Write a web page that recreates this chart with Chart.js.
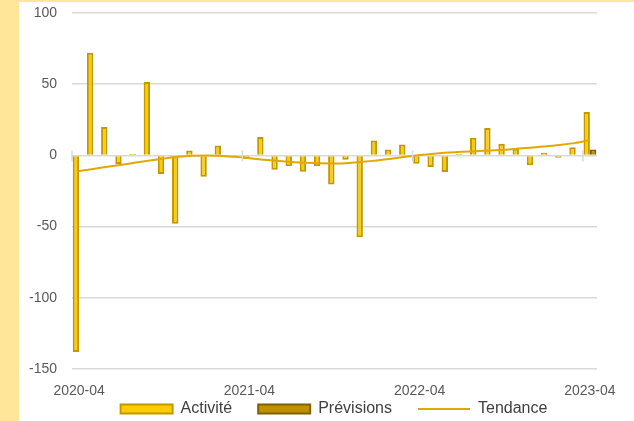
<!DOCTYPE html>
<html>
<head>
<meta charset="utf-8">
<script src="https://cdn.jsdelivr.net/npm/chart.js@4/dist/chart.umd.min.js"></script>
<style>
  html, body { margin: 0; padding: 0; background: #FFE699; }
  #wrap { position: absolute; left: 19px; top: 2px; width: 615px; height: 419px; background: #fff; }
</style>
</head>
<body>
<div id="wrap"><canvas id="chart" width="615" height="419"></canvas></div>
<script>
// ----- Data -----
const months = [
  "2020-04","2020-05","2020-06","2020-07","2020-08","2020-09","2020-10","2020-11","2020-12",
  "2021-01","2021-02","2021-03","2021-04","2021-05","2021-06","2021-07","2021-08","2021-09",
  "2021-10","2021-11","2021-12","2022-01","2022-02","2022-03","2022-04","2022-05","2022-06",
  "2022-07","2022-08","2022-09","2022-10","2022-11","2022-12","2023-01","2023-02","2023-03",
  "2023-04"
];
const activite = [
  -138, 72, 20, -6, 1, 51.5, -13, -48, 3.5,
  -15, 7, 0.5, -2.3, 13, -10, -7.7, -11.5, -7.7,
  -20.5, -3, -57.5, 10.5, 4.2, 7.7, -5.8, -8.2, -11.7,
  1.2, 12.4, 19.2, 8.2, 4.7, -7, 1.9, -1.6, 5.8,
  30.4
];
const previsions = [
  null, null, null, null, null, null, null, null, null,
  null, null, null, null, null, null, null, null, null,
  null, null, null, null, null, null, null, null, null,
  null, null, null, null, null, null, null, null, null,
  4.2
];
const tendance = [
  -11, -9.5, -8, -6.6, -5, -3.6, -2.2, -1, -0.3,
  0, -0.4, -1, -2, -3, -3.8, -4.6, -5.2, -5.6,
  -5.7, -5.3, -4.5, -3.5, -2.3, -1, 0.2, 1.2, 2,
  2.5, 3, 3.5, 4, 4.8, 5.6, 6.5, 7.5, 8.8,
  10.8
];

// small tick marks on the zero line, at the yearly category boundaries
const zeroTicks = {
  id: "zeroTicks",
  afterDatasetsDraw(chart) {
    const x = chart.scales.x, y = chart.scales.y;
    const y0 = y.getPixelForValue(0);
    const step = (x.right - x.left) / months.length;
    const ctx = chart.ctx;
    ctx.save();
    ctx.strokeStyle = "#D9D9D9";
    ctx.lineWidth = 1.5;
    for (let i = 0; i <= months.length; i += 12) {
      const px = x.left + step * i;
      ctx.beginPath();
      ctx.moveTo(px, y0 - 5);
      ctx.lineTo(px, y0 + 6);
      ctx.stroke();
    }
    ctx.restore();
  }
};

// legend: keep little room for it, then move it up under the axis labels
const legendPlace = {
  id: "legendPlace",
  beforeInit(chart) {
    const fit = chart.legend.fit;
    chart.legend.fit = function() {
      fit.bind(chart.legend)();
      this.height = 20;
    };
  },
  afterLayout(chart) {
    const lg = chart.legend;
    lg.top = 373;
    lg.bottom = chart.height;
    lg.left += 26; lg.right += 26;
  }
};

const ctx = document.getElementById("chart").getContext("2d");
new Chart(ctx, {
  type: "bar",
  data: {
    labels: months,
    datasets: [
      {
        label: "Activité",
        data: activite,
        backgroundColor: "#FFCC00",
        borderColor: "#C29800",
        borderWidth: 2,
        pointStyle: "rect",
        order: 2
      },
      {
        label: "Prévisions",
        data: previsions,
        backgroundColor: "#BF9000",
        borderColor: "#7F6000",
        borderWidth: 2,
        pointStyle: "rect",
        order: 2
      },
      {
        type: "line",
        label: "Tendance",
        data: tendance,
        borderColor: "#E2A800",
        backgroundColor: "#E2A800",
        borderWidth: 2,
        pointRadius: 0,
        pointStyle: "line",
        tension: 0.3,
        order: 1
      }
    ]
  },
  options: {
    responsive: false,
    animation: false,
    layout: { padding: { left: 0, right: 37, top: 11, bottom: 0 } },
    datasets: {
      bar: { categoryPercentage: 0.9, barPercentage: 1 }
    },
    scales: {
      x: {
        afterFit(scale) { scale.height = 32; },
        grid: { display: false, drawTicks: false },
        border: { display: false },
        ticks: {
          autoSkip: false,
          maxRotation: 0,
          padding: 14,
          color: "#595959",
          font: { family: "Liberation Sans", size: 14 },
          callback: function(val, idx) { return idx % 12 === 0 ? months[idx] : ""; }
        }
      },
      y: {
        min: -150,
        max: 100,
        afterFit(scale) {
          scale.width = 53;
          scale.paddingTop = 0;
          scale.paddingBottom = 0;
        },
        grid: {
          color: "#D9D9D9",
          lineWidth: 1.5,
          drawTicks: false
        },
        border: { display: false },
        ticks: {
          stepSize: 50,
          padding: 15,
          color: "#595959",
          font: { family: "Liberation Sans", size: 14 }
        }
      }
    },
    plugins: {
      legend: {
        position: "bottom",
        labels: {
          usePointStyle: true,
          pointStyleWidth: 52,
          boxHeight: 9,
          padding: 26,
          color: "#404040",
          font: { family: "Liberation Sans", size: 16 },
          sort: (a, b) => a.datasetIndex - b.datasetIndex
        }
      },
      tooltip: { enabled: false }
    }
  },
  plugins: [zeroTicks, legendPlace]
});
</script>
</body>
</html>
